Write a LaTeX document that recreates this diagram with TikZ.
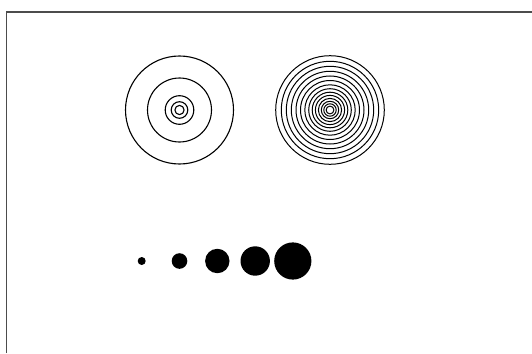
\documentclass[tikz,border=0pt]{standalone}
\begin{document}
\begin{tikzpicture}[x=1pt,y=-1pt,
  ring/.style={draw=black,line width=1.1pt},
  dot/.style={fill=black},
  frame/.style={draw=black!70,line width=1.3pt}]
\useasboundingbox (0,0) rectangle (532,353);
\draw[frame] (6.5,353) -- (6.5,12) -- (532,12);
% left target
\foreach \r in {54,32,14.3,8.3,4.6}
  \draw[ring] (179.5,110) circle[radius=\r];
% right target
\foreach \r in {54.3,48.7,43.7,38.7,34,29.5,25.2,21.3,17.8,14.6,11.6,8.7,6.2,3.9}
  \draw[ring,line width=1pt] (330,110) circle[radius=\r];
% dots
\fill[dot] (141.7,261) circle[radius=4];
\fill[dot] (179.5,261) circle[radius=7.8];
\fill[dot] (217.3,261) circle[radius=12.2];
\fill[dot] (255.2,261) circle[radius=14.7];
\fill[dot] (292.8,261) circle[radius=18.6];
\end{tikzpicture}
\end{document}
